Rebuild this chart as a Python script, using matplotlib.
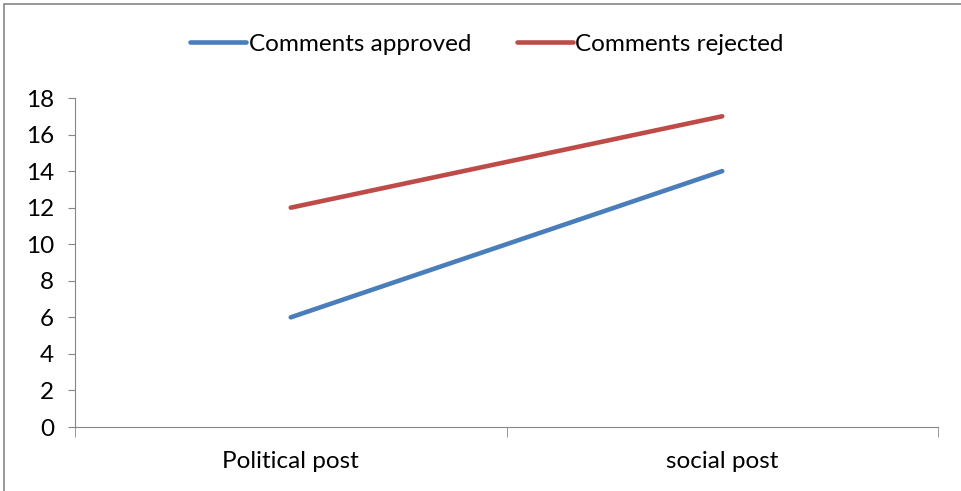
import matplotlib
matplotlib.use("Agg")
import matplotlib.pyplot as plt
from matplotlib.patches import Rectangle

categories = ["Political post", "social post"]
approved = [6, 14]
rejected = [12, 17]
yticks = [0, 2, 4, 6, 8, 10, 12, 14, 16, 18]

plt.rcParams['font.family'] = ['Lato', 'DejaVu Sans']
grey = '#868686'

fig = plt.figure(figsize=(9.61, 4.91), dpi=100)
ax = fig.add_axes([75 / 961, 1 - 427 / 491, 863 / 961, 329 / 491])

x = list(range(len(categories)))
ax.plot(x, approved, color='#4A7EBB', lw=3.3, solid_capstyle='round', label='Comments approved')
ax.plot(x, rejected, color='#BE4B48', lw=3.3, solid_capstyle='round', label='Comments rejected')

ax.set_xlim(-0.5, len(categories) - 0.5)
ax.set_ylim(0, 18)
ax.set_yticks(yticks)
ax.set_yticklabels([str(v) for v in yticks], fontsize=17.5)
ax.set_xticks(x)
ax.set_xticklabels(categories, fontsize=17.5)
ax.set_xticks([i - 0.5 for i in range(len(categories) + 1)], minor=True)
ax.tick_params(axis='x', which='major', length=0, pad=17)
ax.tick_params(axis='x', which='minor', length=7, color=grey)
ax.tick_params(axis='y', length=5, color=grey, pad=10)

for s in ['top', 'right']:
    ax.spines[s].set_visible(False)
for s in ['left', 'bottom']:
    ax.spines[s].set_color(grey)

fig.legend(loc='center', bbox_to_anchor=(487 / 961, 1 - 44 / 491), ncol=2, frameon=False,
           fontsize=17.5, handlelength=2.3, handletextpad=0.1, columnspacing=1.9)

fig.patches.append(Rectangle((3.5 / 961, -0.1), 1.2, 1 - 4 / 491 + 0.1, transform=fig.transFigure,
                             fill=False, edgecolor=grey, lw=1.2))

fig.savefig("out.png", dpi=100)
